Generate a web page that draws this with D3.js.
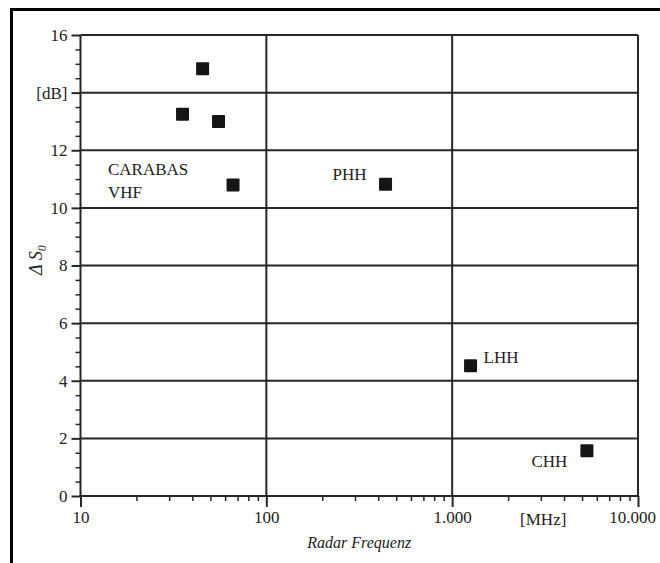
<!DOCTYPE html>
<html>
<head>
<meta charset="utf-8">
<script src="https://cdn.jsdelivr.net/npm/d3@7"></script>
<style>
  body { margin: 0; background: #fff; }
  text { font-family: "Liberation Serif", "DejaVu Serif", serif; fill: #222; }
</style>
</head>
<body>
<div class="main"></div>
<script>
// Data
const freqs = [35.4, 45.4, 55.3, 66.2, 438, 1256, 5310];        // MHz
const deltaS = [13.25, 14.83, 13.0, 10.79, 10.82, 4.52, 1.57];  // dB

const yTicks = [0, 2, 4, 6, 8, 10, 12, 14, 16];
const yTickLabels = ["0", "2", "4", "6", "8", "10", "12", "[dB]", "16"];
const xTicks = [10, 100, 1000, 10000];
const xTickLabels = ["10", "100", "1.000", "10.000"];

// Annotations (text lines, anchor in data units)
const annotTexts = [["CARABAS", "VHF"], ["PHH"], ["LHH"], ["CHH"]];
const annotFreq = [14.06, 227, 1476, 2672];
const annotDb = [11.15, 10.97, 4.62, 1.0];

// Dimensions
const W = 660, H = 563;
const margin = { top: 35, right: 22, bottom: 67, left: 80.5 };
const width = W - margin.left - margin.right;
const height = H - margin.top - margin.bottom;

const svg = d3.select('.main')
  .append('svg')
    .attr('width', W)
    .attr('height', H);

// outer frame (top and left only)
svg.append("path")
  .attr("d", "M11.5,563 L11.5,9.5 L660,9.5")
  .attr("fill", "none")
  .attr("stroke", "#000")
  .attr("stroke-width", 3);

const g = svg.append("g")
  .attr("transform", "translate(" + margin.left + "," + margin.top + ")");

const x = d3.scaleLog().domain([10, 10000]).range([0, width]);
const y = d3.scaleLinear().domain([0, 16]).range([height, 0]);

const lineCol = "#262626";
const fs = 17;

// Horizontal grid
g.append("g")
  .selectAll("line")
  .data(yTicks)
  .join("line")
    .attr("x1", 0).attr("x2", width)
    .attr("y1", d => y(d)).attr("y2", d => y(d))
    .attr("stroke", lineCol)
    .attr("stroke-width", 2);

// Vertical grid
g.append("g")
  .selectAll("line")
  .data(xTicks)
  .join("line")
    .attr("x1", d => x(d)).attr("x2", d => x(d))
    .attr("y1", 0).attr("y2", height)
    .attr("stroke", lineCol)
    .attr("stroke-width", 2);

// Y axis: minor ticks every 0.5
const yMinor = d3.range(0, 16.01, 0.5).filter(v => v % 2 !== 0);
const yAxis = g.append("g");
yAxis.call(d3.axisLeft(y).tickValues(yMinor).tickSize(5).tickFormat(""));
yAxis.select(".domain").remove();
yAxis.selectAll("line").attr("stroke", lineCol).attr("stroke-width", 1.5);

const yAxisMajor = g.append("g")
  .call(d3.axisLeft(y).tickValues(yTicks).tickSize(9).tickPadding(4)
    .tickFormat((d, i) => yTickLabels[i]));
yAxisMajor.select(".domain").remove();
yAxisMajor.selectAll("line").attr("stroke", lineCol).attr("stroke-width", 2);
yAxisMajor.selectAll("text")
  .attr("font-size", fs)
  .attr("fill", "#222");

// X axis: minor ticks (2..9 per decade)
const xMinor = [];
[10, 100, 1000].forEach(dec => { for (let k = 2; k <= 9; k++) xMinor.push(dec * k); });
const xAxis = g.append("g").attr("transform", "translate(0," + height + ")");
xAxis.call(d3.axisBottom(x).tickValues(xMinor).tickSize(5).tickFormat(""));
xAxis.select(".domain").remove();
xAxis.selectAll("line").attr("stroke", lineCol).attr("stroke-width", 1.5);

const xAxisMajor = g.append("g").attr("transform", "translate(0," + height + ")")
  .call(d3.axisBottom(x).tickValues(xTicks).tickSize(11).tickPadding(4)
    .tickFormat((d, i) => xTickLabels[i]));
xAxisMajor.select(".domain").remove();
xAxisMajor.selectAll("line").attr("stroke", lineCol).attr("stroke-width", 2);
xAxisMajor.selectAll("text")
  .attr("font-size", fs)
  .attr("fill", "#222")
  .attr("dx", d => d === 10000 ? -6 : 0);

// unit label on x axis
g.append("text")
  .attr("x", x(1000) + (x(10000) - x(1000)) * 0.49)
  .attr("y", height + 29)
  .attr("text-anchor", "middle")
  .attr("font-size", fs)
  .text("[MHz]");

// Points
const pts = freqs.map((f, i) => ({ f: f, v: deltaS[i] }));
const sq = 13;
g.append("g")
  .selectAll("rect")
  .data(pts)
  .join("rect")
    .attr("x", d => x(d.f) - sq / 2)
    .attr("y", d => y(d.v) - sq / 2)
    .attr("width", sq)
    .attr("height", sq)
    .attr("rx", 1)
    .attr("fill", "#151515");

// Annotations
annotTexts.forEach((lines, i) => {
  const t = g.append("text")
    .attr("x", x(annotFreq[i]))
    .attr("y", y(annotDb[i]))
    .attr("font-size", fs);
  lines.forEach((l, j) => {
    t.append("tspan")
      .attr("x", x(annotFreq[i]))
      .attr("dy", j === 0 ? 0 : 23)
      .text(l);
  });
});

// Axis titles
g.append("text")
  .attr("x", width / 2)
  .attr("y", height + 52)
  .attr("text-anchor", "middle")
  .attr("font-size", 16)
  .attr("font-style", "italic")
  .text("Radar Frequenz");

const yt = g.append("text")
  .attr("transform", "translate(-38.5,225) rotate(-90)")
  .attr("text-anchor", "middle")
  .attr("font-size", 18)
  .attr("font-style", "italic");
yt.append("tspan").text("Δ S");
yt.append("tspan").attr("font-size", 12).attr("dy", 4).text("0");
</script>
</body>
</html>
